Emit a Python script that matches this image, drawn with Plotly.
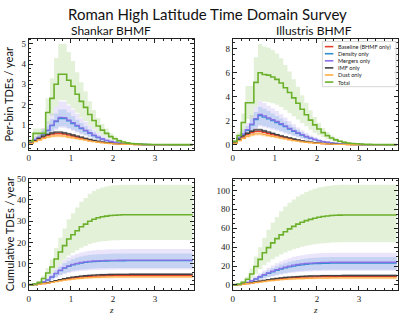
import plotly.graph_objects as go

# ---------------- data ----------------
z_edges = [0.0, 0.1, 0.2, 0.3, 0.4, 0.5, 0.6, 0.7, 0.8, 0.9, 1.0, 1.1, 1.2, 1.3, 1.4, 1.5, 1.6, 1.7, 1.8, 1.9,
           2.0, 2.1, 2.2, 2.3, 2.4, 2.5, 2.6, 2.7, 2.8, 2.9, 3.0, 3.1, 3.2, 3.3, 3.4, 3.5, 3.6, 3.7, 3.8, 3.9]

model_keys = ["base", "dens", "merg", "imf", "dust", "total"]
model_labels = ["Baseline (BHMF only)", "Density only", "Mergers only", "IMF only", "Dust only", "Total"]
panel_titles = ["Shankar BHMF", "Illustris BHMF"]
fig_title = "Roman High Latitude Time Domain Survey"
ylabel_bin = "Per-bin TDEs / year"
ylabel_cum = "Cumulative TDEs / year"
xlabel = "z"

# ---- Shankar, per-bin ----
sh_bin_total = [0.19,0.56,0.56,0.56,1.6,2.3,3.0,3.5,3.5,3.2,2.9,2.5,2.15,1.85,1.5,1.2,0.93,0.72,0.56,0.4,0.29,0.19,0.13,0.09,0.06,0.04,0.03,0.02,0.015,0.01,0.008,0.006,0.004,0.003,0.002,0.002,0.001,0.001,0.001]
sh_bin_total_lo = [0.12,0.35,0.35,0.35,1.0,1.45,1.9,2.2,2.2,2.0,1.8,1.58,1.35,1.17,0.95,0.76,0.59,0.45,0.35,0.25,0.18,0.12,0.08,0.057,0.038,0.025,0.019,0.013,0.009,0.006,0.005,0.004,0.003,0.002,0.001,0.001,0.001,0.001,0.001]
sh_bin_total_hi = [0.27,0.8,0.8,0.8,2.3,3.3,4.3,5.0,5.0,4.6,4.15,3.6,3.1,2.65,2.15,1.72,1.33,1.03,0.8,0.57,0.41,0.27,0.19,0.13,0.086,0.057,0.043,0.029,0.021,0.014,0.011,0.009,0.006,0.004,0.003,0.003,0.001,0.001,0.001]
sh_bin_dens = [0.1,0.25,0.35,0.5,0.7,0.95,1.15,1.3,1.3,1.18,1.05,0.92,0.8,0.68,0.56,0.45,0.35,0.27,0.2,0.15,0.11,0.075,0.05,0.035,0.024,0.016,0.011,0.008,0.005,0.004,0.003,0.002,0.001,0.001,0.001,0,0,0,0]
sh_bin_dens_lo = [0.07,0.18,0.25,0.35,0.49,0.67,0.8,0.91,0.91,0.83,0.74,0.64,0.56,0.48,0.39,0.32,0.25,0.19,0.14,0.105,0.077,0.053,0.035,0.025,0.017,0.011,0.008,0.006,0.004,0.003,0.002,0.001,0.001,0.001,0.001,0,0,0,0]
sh_bin_dens_hi = [0.135,0.34,0.47,0.68,0.95,1.28,1.55,1.75,1.75,1.6,1.42,1.24,1.08,0.92,0.76,0.61,0.47,0.36,0.27,0.2,0.15,0.1,0.068,0.047,0.032,0.022,0.015,0.011,0.007,0.005,0.004,0.003,0.001,0.001,0.001,0,0,0,0]
sh_bin_merg = [0.1,0.26,0.36,0.52,0.72,0.97,1.18,1.35,1.34,1.22,1.09,0.96,0.83,0.71,0.59,0.47,0.37,0.28,0.21,0.16,0.115,0.08,0.055,0.037,0.025,0.017,0.012,0.008,0.006,0.004,0.003,0.002,0.001,0.001,0.001,0,0,0,0]
sh_bin_merg_lo = [0.06,0.16,0.22,0.32,0.45,0.6,0.73,0.84,0.83,0.76,0.68,0.6,0.51,0.44,0.37,0.29,0.23,0.17,0.13,0.1,0.071,0.05,0.034,0.023,0.016,0.011,0.007,0.005,0.004,0.002,0.002,0.001,0.001,0.001,0.001,0,0,0,0]
sh_bin_merg_hi = [0.16,0.42,0.58,0.83,1.15,1.55,1.89,2.16,2.14,1.95,1.74,1.54,1.33,1.14,0.94,0.75,0.59,0.45,0.34,0.26,0.18,0.13,0.088,0.059,0.04,0.027,0.019,0.013,0.01,0.006,0.005,0.003,0.002,0.002,0.002,0,0,0,0]
sh_bin_base = [0.07,0.18,0.28,0.38,0.46,0.52,0.55,0.55,0.52,0.48,0.43,0.38,0.33,0.28,0.23,0.19,0.15,0.12,0.09,0.07,0.05,0.035,0.025,0.018,0.012,0.008,0.006,0.004,0.003,0.002,0.001,0.001,0.001,0,0,0,0,0,0]
sh_bin_base_lo = [0.06,0.15,0.24,0.32,0.39,0.44,0.47,0.47,0.44,0.41,0.37,0.32,0.28,0.24,0.2,0.16,0.13,0.1,0.077,0.06,0.043,0.03,0.021,0.015,0.01,0.007,0.005,0.003,0.003,0.002,0.001,0.001,0.001,0,0,0,0,0,0]
sh_bin_base_hi = [0.08,0.21,0.32,0.44,0.53,0.6,0.63,0.63,0.6,0.55,0.49,0.44,0.38,0.32,0.26,0.22,0.17,0.14,0.1,0.08,0.058,0.04,0.029,0.021,0.014,0.009,0.007,0.005,0.003,0.002,0.001,0.001,0.001,0,0,0,0,0,0]
sh_bin_imf = [0.08,0.2,0.31,0.42,0.51,0.58,0.62,0.62,0.58,0.54,0.48,0.42,0.37,0.31,0.26,0.21,0.17,0.13,0.1,0.08,0.056,0.04,0.028,0.02,0.013,0.009,0.007,0.004,0.003,0.002,0.001,0.001,0.001,0,0,0,0,0,0]
sh_bin_imf_lo = [0.07,0.18,0.27,0.37,0.45,0.51,0.55,0.55,0.51,0.48,0.42,0.37,0.33,0.27,0.23,0.18,0.15,0.11,0.088,0.07,0.049,0.035,0.025,0.018,0.011,0.008,0.006,0.004,0.003,0.002,0.001,0.001,0.001,0,0,0,0,0,0]
sh_bin_imf_hi = [0.09,0.22,0.35,0.47,0.57,0.65,0.69,0.69,0.65,0.6,0.54,0.47,0.41,0.35,0.29,0.24,0.19,0.15,0.11,0.09,0.063,0.045,0.031,0.022,0.015,0.01,0.008,0.005,0.003,0.002,0.001,0.001,0.001,0,0,0,0,0,0]
sh_bin_dust = [0.06,0.15,0.23,0.31,0.37,0.42,0.44,0.44,0.42,0.38,0.34,0.3,0.26,0.22,0.18,0.15,0.12,0.09,0.07,0.055,0.04,0.028,0.02,0.014,0.01,0.006,0.005,0.003,0.002,0.0015,0.001,0.001,0,0,0,0,0,0,0]
sh_bin_dust_lo = [0.05,0.12,0.19,0.25,0.3,0.34,0.36,0.36,0.34,0.31,0.28,0.25,0.21,0.18,0.15,0.12,0.1,0.074,0.057,0.045,0.033,0.023,0.016,0.011,0.008,0.005,0.004,0.002,0.002,0.001,0.001,0.001,0,0,0,0,0,0,0]
sh_bin_dust_hi = [0.07,0.18,0.28,0.37,0.44,0.5,0.53,0.53,0.5,0.46,0.41,0.36,0.31,0.26,0.22,0.18,0.14,0.11,0.084,0.066,0.048,0.034,0.024,0.017,0.012,0.007,0.006,0.004,0.002,0.002,0.001,0.001,0,0,0,0,0,0,0]

# ---- Shankar, cumulative ----
sh_cum_total = [0.1,0.4,1.2,3.0,5.6,8.4,12.2,15.5,18.5,21.6,23.6,25.5,27.4,28.6,30.0,30.9,31.6,32.1,32.4,32.7,32.8,32.9] + [33.0] * 17
sh_cum_total_lo = [0.06,0.26,0.77,1.9,3.6,5.4,7.8,9.9,11.8,13.8,15.1,16.3,17.5,18.3,19.2,19.8,20.2,20.5,20.7,20.9,21.0,21.05] + [21.1] * 17
sh_cum_total_hi = [0.14,0.57,1.7,4.3,8.0,12.0,17.4,22.2,26.5,30.9,33.7,36.5,39.2,40.9,42.9,44.2,45.2,45.9,46.3,46.8,46.9,47.0] + [47.2] * 17
sh_cum_dens = [0.05,0.25,0.7,1.4,2.3,3.7,5.3,6.7,7.9,8.7,9.4,9.9,10.3,10.6,10.85,11.0,11.1,11.2,11.25,11.3,11.33,11.35,11.37,11.38] + [11.4] * 15
sh_cum_dens_lo = [0.035,0.18,0.49,0.98,1.6,2.6,3.7,4.7,5.5,6.1,6.6,6.9,7.2,7.4,7.6,7.7,7.8,7.84,7.88,7.9,7.93,7.95,7.96,7.97] + [7.98] * 15
sh_cum_dens_hi = [0.065,0.33,0.91,1.8,3.0,4.8,6.9,8.7,10.3,11.3,12.2,12.9,13.4,13.8,14.1,14.3,14.4,14.56,14.6,14.7,14.73,14.76,14.78,14.8] + [14.82] * 15
sh_cum_merg = [0.05,0.26,0.72,1.45,2.4,3.8,5.45,6.9,8.1,8.95,9.65,10.15,10.55,10.85,11.1,11.25,11.35,11.45,11.5,11.55,11.58,11.6,11.62,11.63] + [11.65] * 15
sh_cum_merg_lo = [0.03,0.16,0.45,0.9,1.5,2.36,3.4,4.3,5.0,5.55,6.0,6.3,6.55,6.7,6.9,7.0,7.04,7.1,7.13,7.16,7.18,7.19,7.2,7.21] + [7.22] * 15
sh_cum_merg_hi = [0.07,0.38,1.04,2.1,3.5,5.5,7.9,10.0,11.7,13.0,14.0,14.7,15.3,15.7,16.1,16.3,16.5,16.6,16.7,16.75,16.8,16.82,16.85,16.87] + [16.9] * 15
sh_cum_base = [0.03,0.15,0.35,0.65,1.0,1.4,1.8,2.2,2.6,2.95,3.25,3.5,3.7,3.88,4.02,4.14,4.24,4.31,4.37,4.41,4.44,4.46,4.48,4.49] + [4.5] * 15
sh_cum_base_lo = [0.026,0.13,0.3,0.55,0.85,1.19,1.53,1.87,2.21,2.51,2.76,2.98,3.15,3.3,3.42,3.52,3.6,3.66,3.71,3.75,3.77,3.79,3.81,3.82] + [3.83] * 15
sh_cum_base_hi = [0.035,0.17,0.4,0.75,1.15,1.61,2.07,2.53,2.99,3.39,3.74,4.03,4.26,4.46,4.62,4.76,4.88,4.96,5.03,5.07,5.11,5.13,5.15,5.16] + [5.18] * 15
sh_cum_imf = [0.033,0.17,0.39,0.72,1.11,1.55,2.0,2.44,2.89,3.27,3.61,3.89,4.11,4.31,4.46,4.6,4.71,4.78,4.85,4.9,4.93,4.95,4.97,4.98] + [5.0] * 15
sh_cum_imf_lo = [0.029,0.15,0.34,0.63,0.98,1.36,1.76,2.15,2.54,2.88,3.18,3.42,3.62,3.79,3.92,4.05,4.14,4.21,4.27,4.31,4.34,4.36,4.37,4.38] + [4.4] * 15
sh_cum_imf_hi = [0.037,0.19,0.44,0.81,1.24,1.74,2.24,2.73,3.24,3.66,4.04,4.36,4.6,4.83,5.0,5.15,5.28,5.35,5.43,5.49,5.52,5.54,5.57,5.58] + [5.6] * 15
sh_cum_dust = [0.025,0.13,0.3,0.55,0.85,1.18,1.52,1.86,2.2,2.49,2.75,2.96,3.13,3.28,3.4,3.5,3.58,3.64,3.69,3.73,3.75,3.77,3.79,3.79] + [3.8] * 15
sh_cum_dust_lo = [0.02,0.11,0.25,0.45,0.7,0.97,1.25,1.53,1.8,2.04,2.26,2.43,2.57,2.69,2.79,2.87,2.94,2.98,3.03,3.06,3.08,3.09,3.1,3.11] + [3.12] * 15
sh_cum_dust_hi = [0.03,0.16,0.36,0.66,1.02,1.42,1.82,2.23,2.64,2.99,3.3,3.55,3.76,3.94,4.08,4.2,4.3,4.37,4.43,4.48,4.5,4.52,4.55,4.55] + [4.56] * 15

# ---- Illustris, per-bin ----
il_bin_total = [0.27,0.76,1.85,3.5,3.5,5.2,6.0,5.85,5.8,5.65,5.45,5.15,4.75,4.35,3.9,3.45,2.95,2.5,2.05,1.65,1.3,1.0,0.75,0.55,0.4,0.28,0.2,0.14,0.1,0.07,0.05,0.03,0.02,0.015,0.01,0.007,0.005,0.003,0.002]
il_bin_total_lo = [0.16,0.46,1.13,2.14,2.14,3.17,3.66,3.57,3.54,3.45,3.32,3.14,2.9,2.65,2.38,2.1,1.8,1.53,1.25,1.0,0.79,0.61,0.46,0.34,0.24,0.17,0.12,0.085,0.061,0.043,0.03,0.018,0.012,0.009,0.006,0.004,0.003,0.002,0.001]
il_bin_total_hi = [0.38,1.06,2.6,4.9,4.9,7.3,8.4,8.2,8.1,7.9,7.6,7.2,6.65,6.1,5.46,4.83,4.13,3.5,2.87,2.31,1.82,1.4,1.05,0.77,0.56,0.39,0.28,0.2,0.14,0.1,0.07,0.042,0.028,0.021,0.014,0.01,0.007,0.004,0.003]
il_bin_dens = [0.25,0.55,0.85,1.2,1.65,2.1,2.42,2.3,2.15,2.0,1.85,1.68,1.5,1.3,1.12,0.95,0.8,0.65,0.52,0.42,0.33,0.25,0.19,0.14,0.1,0.07,0.05,0.035,0.025,0.017,0.012,0.008,0.005,0.003,0.002,0.001,0.001,0,0]
il_bin_dens_lo = [0.17,0.37,0.58,0.82,1.12,1.43,1.65,1.56,1.46,1.36,1.26,1.14,1.02,0.88,0.76,0.65,0.54,0.44,0.35,0.29,0.22,0.17,0.13,0.095,0.068,0.048,0.034,0.024,0.017,0.012,0.008,0.005,0.003,0.002,0.001,0.001,0.001,0,0]
il_bin_dens_hi = [0.33,0.72,1.1,1.56,2.15,2.73,3.15,3.0,2.8,2.6,2.4,2.18,1.95,1.69,1.46,1.24,1.04,0.85,0.68,0.55,0.43,0.33,0.25,0.18,0.13,0.091,0.065,0.046,0.033,0.022,0.016,0.01,0.007,0.004,0.003,0.001,0.001,0,0]
il_bin_merg = [0.26,0.57,0.88,1.25,1.72,2.18,2.52,2.4,2.24,2.08,1.93,1.75,1.56,1.36,1.17,0.99,0.83,0.68,0.54,0.44,0.34,0.26,0.2,0.15,0.1,0.073,0.052,0.036,0.026,0.018,0.012,0.008,0.005,0.003,0.002,0.001,0.001,0,0]
il_bin_merg_lo = [0.16,0.34,0.53,0.75,1.03,1.31,1.51,1.44,1.34,1.25,1.16,1.05,0.94,0.82,0.7,0.59,0.5,0.41,0.32,0.26,0.2,0.16,0.12,0.09,0.06,0.044,0.031,0.022,0.016,0.011,0.007,0.005,0.003,0.002,0.001,0.001,0.001,0,0]
il_bin_merg_hi = [0.38,0.83,1.28,1.81,2.49,3.16,3.65,3.48,3.25,3.02,2.8,2.54,2.26,1.97,1.7,1.44,1.2,0.99,0.78,0.64,0.49,0.38,0.29,0.22,0.15,0.11,0.075,0.052,0.038,0.026,0.017,0.012,0.007,0.004,0.003,0.001,0.001,0,0]
il_bin_base = [0.15,0.4,0.65,0.85,1.0,1.1,1.1,1.02,0.93,0.84,0.75,0.66,0.58,0.5,0.42,0.35,0.29,0.24,0.19,0.15,0.12,0.09,0.07,0.05,0.038,0.028,0.02,0.014,0.01,0.007,0.005,0.003,0.002,0.002,0.001,0.001,0.001,0,0]
il_bin_base_lo = [0.13,0.34,0.55,0.72,0.85,0.94,0.94,0.87,0.79,0.71,0.64,0.56,0.49,0.43,0.36,0.3,0.25,0.2,0.16,0.13,0.1,0.077,0.06,0.043,0.032,0.024,0.017,0.012,0.009,0.006,0.004,0.003,0.002,0.002,0.001,0.001,0.001,0,0]
il_bin_base_hi = [0.17,0.46,0.75,0.98,1.15,1.27,1.27,1.17,1.07,0.97,0.86,0.76,0.67,0.58,0.48,0.4,0.33,0.28,0.22,0.17,0.14,0.1,0.08,0.058,0.044,0.032,0.023,0.016,0.012,0.008,0.006,0.003,0.002,0.002,0.001,0.001,0.001,0,0]
il_bin_imf = [0.17,0.45,0.73,0.95,1.12,1.23,1.23,1.14,1.04,0.94,0.84,0.74,0.65,0.56,0.47,0.39,0.32,0.27,0.21,0.17,0.13,0.1,0.078,0.056,0.043,0.031,0.022,0.016,0.011,0.008,0.006,0.003,0.002,0.002,0.001,0.001,0.001,0,0]
il_bin_imf_lo = [0.15,0.4,0.64,0.84,0.99,1.08,1.08,1.0,0.92,0.83,0.74,0.65,0.57,0.49,0.41,0.34,0.28,0.24,0.18,0.15,0.11,0.088,0.069,0.049,0.038,0.027,0.019,0.014,0.01,0.007,0.005,0.003,0.002,0.002,0.001,0.001,0.001,0,0]
il_bin_imf_hi = [0.19,0.5,0.82,1.06,1.25,1.38,1.38,1.28,1.16,1.05,0.94,0.83,0.73,0.63,0.53,0.44,0.36,0.3,0.24,0.19,0.15,0.11,0.087,0.063,0.048,0.035,0.025,0.018,0.012,0.009,0.007,0.003,0.002,0.002,0.001,0.001,0.001,0,0]
il_bin_dust = [0.12,0.33,0.53,0.7,0.82,0.9,0.9,0.84,0.76,0.69,0.62,0.54,0.48,0.41,0.34,0.29,0.24,0.2,0.16,0.12,0.1,0.074,0.057,0.041,0.031,0.023,0.016,0.011,0.008,0.006,0.004,0.002,0.002,0.002,0.001,0.001,0.001,0,0]
il_bin_dust_lo = [0.1,0.27,0.43,0.57,0.67,0.74,0.74,0.69,0.62,0.57,0.51,0.44,0.39,0.34,0.28,0.24,0.2,0.16,0.13,0.1,0.082,0.061,0.047,0.034,0.025,0.019,0.013,0.009,0.007,0.005,0.003,0.002,0.002,0.002,0.001,0.001,0.001,0,0]
il_bin_dust_hi = [0.14,0.4,0.64,0.84,0.98,1.08,1.08,1.01,0.91,0.83,0.74,0.65,0.58,0.49,0.41,0.35,0.29,0.24,0.19,0.14,0.12,0.089,0.068,0.049,0.037,0.028,0.019,0.013,0.01,0.007,0.005,0.002,0.002,0.002,0.001,0.001,0.001,0,0]

# ---- Illustris, cumulative ----
il_cum_total = [0.3,1.0,2.8,6.0,11.5,19.5,27,34,39.5,44.5,49,53,56.3,59.3,62,64.3,66.3,68,69.4,70.6,71.6,72.4,73,73.4,73.7,73.9] + [74.0] * 13
il_cum_total_lo = [0.18,0.61,1.7,3.66,7.0,11.9,16.5,20.7,24.1,27.1,29.9,32.3,34.3,36.2,37.8,39.2,40.4,41.5,42.3,43.1,43.7,44.2,44.5,44.8,45.0,45.1] + [45.1] * 13
il_cum_total_hi = [0.45,1.5,4.2,9.0,17.5,30,40,50,58.5,66,72,78,83,87,90.5,93.5,96,98.3,100.2,101.8,103,104,104.8,105.3,105.7,106] + [106.0] * 13
il_cum_dens = [0.15,0.55,1.3,2.5,4.2,6.2,8.3,10.3,12.2,13.9,15.4,16.8,18.0,19.1,20.0,20.7,21.3,21.8,22.2,22.5,22.7,22.85,22.95,23.0] + [23.0] * 15
il_cum_dens_lo = [0.1,0.39,0.91,1.75,2.94,4.34,5.8,7.2,8.5,9.7,10.8,11.8,12.6,13.4,14.0,14.5,14.9,15.3,15.5,15.75,15.9,16.0,16.07,16.1] + [16.1] * 15
il_cum_dens_hi = [0.19,0.7,1.66,3.2,5.4,7.9,10.6,13.2,15.6,17.8,19.7,21.5,23.0,24.4,25.6,26.5,27.3,27.9,28.4,28.8,29.1,29.25,29.4,29.44] + [29.44] * 15
il_cum_merg = [0.16,0.58,1.36,2.6,4.4,6.5,8.7,10.8,12.8,14.5,16.1,17.5,18.8,19.9,20.9,21.6,22.2,22.7,23.1,23.4,23.6,23.8,23.9,24.0] + [24.0] * 15
il_cum_merg_lo = [0.1,0.36,0.84,1.6,2.7,4.0,5.4,6.7,7.9,9.0,10.0,10.9,11.7,12.3,13.0,13.4,13.8,14.1,14.3,14.5,14.6,14.75,14.8,14.9] + [14.9] * 15
il_cum_merg_hi = [0.23,0.82,1.93,3.7,6.2,9.2,12.4,15.3,18.2,20.6,22.9,24.9,26.7,28.3,29.7,30.7,31.5,32.2,32.8,33.2,33.5,33.8,33.9,34.1] + [34.1] * 15
il_cum_base = [0.1,0.37,0.85,1.5,2.2,2.95,3.7,4.4,5.05,5.65,6.2,6.7,7.1,7.45,7.75,8.0,8.2,8.37,8.5,8.62,8.72,8.8,8.86,8.9,8.93,8.95,8.97,8.98,8.99] + [9.0] * 10
il_cum_base_lo = [0.085,0.31,0.72,1.28,1.87,2.5,3.15,3.74,4.29,4.8,5.27,5.7,6.04,6.33,6.59,6.8,6.97,7.11,7.23,7.33,7.41,7.48,7.53,7.57,7.59,7.61,7.62,7.63,7.64] + [7.65] * 10
il_cum_base_hi = [0.115,0.43,0.98,1.73,2.53,3.39,4.26,5.06,5.81,6.5,7.13,7.71,8.17,8.57,8.91,9.2,9.43,9.63,9.78,9.91,10.03,10.12,10.19,10.24,10.27,10.29,10.32,10.33,10.34] + [10.35] * 10
il_cum_imf = [0.11,0.41,0.94,1.67,2.44,3.27,4.1,4.88,5.6,6.27,6.88,7.44,7.88,8.27,8.6,8.88,9.1,9.29,9.44,9.57,9.68,9.77,9.83,9.88,9.91,9.93,9.96,9.97,9.98] + [10.0] * 10
il_cum_imf_lo = [0.1,0.36,0.83,1.47,2.15,2.88,3.61,4.29,4.93,5.52,6.05,6.55,6.93,7.28,7.57,7.81,8.01,8.18,8.31,8.42,8.52,8.6,8.65,8.69,8.72,8.74,8.76,8.77,8.78] + [8.8] * 10
il_cum_imf_hi = [0.12,0.46,1.05,1.87,2.73,3.66,4.59,5.47,6.27,7.02,7.71,8.33,8.83,9.26,9.63,9.95,10.19,10.4,10.57,10.72,10.84,10.94,11.01,11.07,11.1,11.12,11.16,11.17,11.18] + [11.2] * 10
il_cum_dust = [0.083,0.31,0.71,1.25,1.83,2.45,3.07,3.65,4.19,4.69,5.15,5.56,5.89,6.18,6.43,6.64,6.81,6.95,7.06,7.15,7.24,7.3,7.35,7.39,7.41,7.43,7.45,7.46,7.46] + [7.47] * 10
il_cum_dust_lo = [0.068,0.25,0.58,1.03,1.5,2.01,2.52,2.99,3.44,3.85,4.22,4.56,4.83,5.07,5.27,5.44,5.58,5.7,5.79,5.86,5.94,5.99,6.03,6.06,6.08,6.09,6.11,6.12,6.12] + [6.13] * 10
il_cum_dust_hi = [0.1,0.37,0.85,1.5,2.2,2.94,3.68,4.38,5.03,5.63,6.18,6.67,7.07,7.42,7.72,7.97,8.17,8.34,8.47,8.58,8.69,8.76,8.82,8.87,8.89,8.92,8.94,8.95,8.95] + [8.96] * 10

# ---------------- assemble ----------------
G = globals()
def series(prefix, key):
    return G[f"{prefix}_{key}"], G[f"{prefix}_{key}_lo"], G[f"{prefix}_{key}_hi"]

colors = {"base": "#e4412e", "dens": "#2f8fd0", "merg": "#8b70e8",
          "imf": "#404040", "dust": "#ffae45", "total": "#6bb02a"}
band_alpha = {"base": 0.22, "dens": 0.2, "merg": 0.18, "imf": 0.18, "dust": 0.25, "total": 0.18}

def rgba(hexc, a):
    h = hexc.lstrip("#")
    r, g, b = int(h[0:2], 16), int(h[2:4], 16), int(h[4:6], 16)
    return f"rgba({r},{g},{b},{a})"

W, H = 400, 317
def px_x(p): return p / W
def px_y(p): return 1 - p / H

boxes = {1: (27, 193, 34.5, 147), 2: (232, 398, 34.5, 147),
         3: (27, 193, 176.5, 289.5), 4: (232, 398, 176.5, 289.5)}
panels = {1: "sh_bin", 2: "il_bin", 3: "sh_cum", 4: "il_cum"}
yranges = {1: [-0.25, 5.25], 2: [-0.42, 8.82], 3: [-2.38, 50.0], 4: [-5.3, 112.4]}
ydt = {1: (1, 0.2), 2: (2, 0.5), 3: (10, 2), 4: (20, 5)}

fig = go.Figure()
for p, prefix in panels.items():
    xa = "x" if p == 1 else f"x{p}"
    ya = "y" if p == 1 else f"y{p}"
    for k in model_keys:
        med, lo, hi = series(prefix, k)
        fig.add_trace(go.Scatter(x=z_edges, y=lo + [lo[-1]], mode="lines", line=dict(width=0, shape="hv"),
                                 xaxis=xa, yaxis=ya, showlegend=False, hoverinfo="skip"))
        fig.add_trace(go.Scatter(x=z_edges, y=hi + [hi[-1]], mode="lines", line=dict(width=0, shape="hv"),
                                 fill="tonexty", fillcolor=rgba(colors[k], band_alpha[k]),
                                 xaxis=xa, yaxis=ya, showlegend=False, hoverinfo="skip"))
    for k in model_keys:
        med, lo, hi = series(prefix, k)
        fig.add_trace(go.Scatter(x=z_edges, y=med + [med[-1]], mode="lines",
                                 line=dict(color=colors[k], width=1.6 if k == "total" else 1.3, shape="hv"),
                                 xaxis=xa, yaxis=ya, showlegend=False))

axis_common = dict(showline=True, linecolor="#222", linewidth=1, mirror="allticks", ticks="inside",
                   ticklen=4, tickwidth=0.8, tickcolor="#222", showgrid=False, zeroline=False,
                   tickfont=dict(family="Liberation Serif", size=9, color="#222"))
layout = {}
for p, (l, r, t, b) in boxes.items():
    xn = "xaxis" if p == 1 else f"xaxis{p}"
    yn = "yaxis" if p == 1 else f"yaxis{p}"
    ya = "y" if p == 1 else f"y{p}"
    xa = "x" if p == 1 else f"x{p}"
    layout[xn] = dict(domain=[px_x(l), px_x(r)], range=[0, 3.93], anchor=ya, dtick=1, tick0=0,
                      minor=dict(ticks="inside", dtick=0.2, ticklen=2, tickcolor="#222", tickwidth=0.6),
                      **axis_common)
    layout[yn] = dict(domain=[px_y(b), px_y(t)], range=yranges[p], anchor=xa, dtick=ydt[p][0], tick0=0,
                      minor=dict(ticks="inside", dtick=ydt[p][1], ticklen=2, tickcolor="#222", tickwidth=0.6),
                      **axis_common)

annotations = [
    dict(text=fig_title, x=px_x(207), y=px_y(9), xref="paper", yref="paper", showarrow=False,
         font=dict(family="Lato", size=15, color="#111"), xanchor="center", yanchor="middle"),
    dict(text=panel_titles[0], x=px_x(110), y=px_y(26), xref="paper", yref="paper", showarrow=False,
         font=dict(family="Lato", size=12, color="#111"), xanchor="center", yanchor="middle"),
    dict(text=panel_titles[1], x=px_x(314), y=px_y(26), xref="paper", yref="paper", showarrow=False,
         font=dict(family="Lato", size=12, color="#111"), xanchor="center", yanchor="middle"),
    dict(text=ylabel_bin, x=px_x(7), y=px_y(91), xref="paper", yref="paper", showarrow=False, textangle=-90,
         font=dict(family="Lato", size=11, color="#111"), xanchor="center", yanchor="middle"),
    dict(text=ylabel_cum, x=px_x(7), y=px_y(233), xref="paper", yref="paper", showarrow=False, textangle=-90,
         font=dict(family="Lato", size=11, color="#111"), xanchor="center", yanchor="middle"),
    dict(text="<i>" + xlabel + "</i>", x=px_x(110), y=px_y(317), xref="paper", yref="paper", showarrow=False,
         font=dict(family="Liberation Serif", size=9, color="#111"), xanchor="center", yanchor="bottom"),
    dict(text="<i>" + xlabel + "</i>", x=px_x(315), y=px_y(317), xref="paper", yref="paper", showarrow=False,
         font=dict(family="Liberation Serif", size=9, color="#111"), xanchor="center", yanchor="bottom"),
]

shapes = [dict(type="rect", xref="paper", yref="paper", x0=px_x(322), x1=px_x(396), y0=px_y(83), y1=px_y(37),
               line=dict(color="#cccccc", width=0.8), fillcolor="rgba(255,255,255,0.85)", layer="above")]
for i, (k, lab) in enumerate(zip(model_keys, model_labels)):
    yc = 42.3 + 7.2 * i
    shapes.append(dict(type="line", xref="paper", yref="paper", x0=px_x(324.5), x1=px_x(333),
                       y0=px_y(yc), y1=px_y(yc), line=dict(color=colors[k], width=1.6), layer="above"))
    annotations.append(dict(text=lab, x=px_x(336), y=px_y(yc), xref="paper", yref="paper", showarrow=False,
                            font=dict(family="Lato", size=5.6, color="#222"), xanchor="left", yanchor="middle"))

fig.update_layout(width=W, height=H, margin=dict(l=0, r=0, t=0, b=0), plot_bgcolor="white",
                  paper_bgcolor="white", showlegend=False, annotations=annotations, shapes=shapes, **layout)
fig.write_html("out.html")
